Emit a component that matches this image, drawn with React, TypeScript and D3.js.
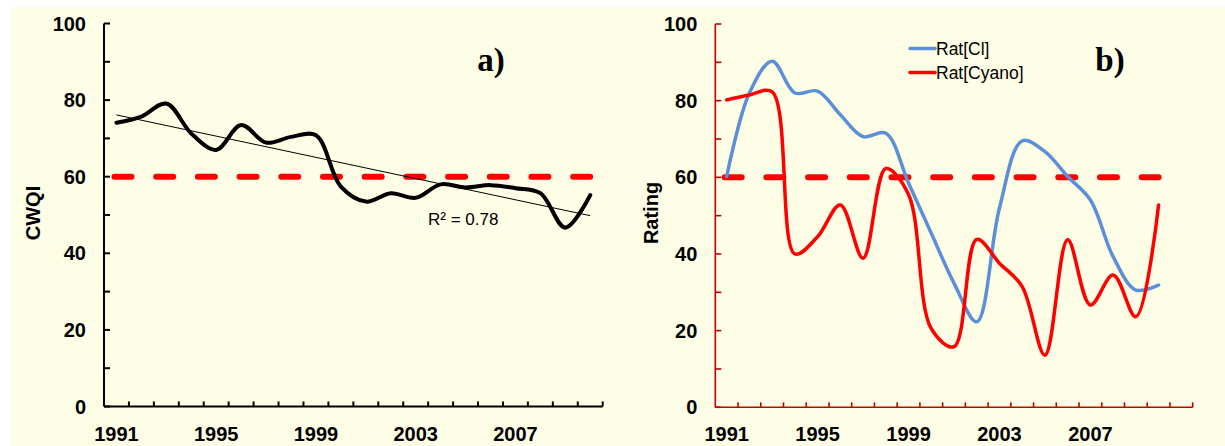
import React, { useEffect, useRef } from 'react';
import * as d3 from 'd3';

// years on the category axes (right panel has one spare slot at the end)
const yearsA = d3.range(1991, 2011).map(String);
const yearsB = d3.range(1991, 2012).map(String);
const yearLabels = ['1991', '1995', '1999', '2003', '2007'];

const cwqi = [74.1, 75.7, 79.1, 71.3, 67.0, 73.5, 68.9, 70.4, 70.8, 57.4,
  53.5, 55.7, 54.5, 58.0, 57.2, 57.8, 57.0, 55.7, 46.7, 55.2];

const ratCl = [60.2, 82.0, 90.3, 82.0, 82.5, 76.3, 70.6, 71.5, 58.5, 45.4,
  32.4, 22.3, 52.0, 69.5, 66.7, 60.2, 54.1, 39.3, 30.6, 31.9];

const ratCyano = [80.2, 81.5, 82.3, 40.0, 44.5, 52.8, 38.9, 62.3, 55.5, 20.5,
  15.8, 43.8, 37.6, 31.5, 13.6, 43.7, 26.7, 34.5, 23.6, 52.8];

const yTicks = d3.range(0, 101, 10);
const threshold = 60;
const rSquared = 'R² = 0.78';

const FONT = 'Liberation Sans, Arial, sans-serif';

const App = () => {
  const ref = useRef<SVGSVGElement>(null);

  useEffect(() => {
    const svg = d3.select(ref.current);
    svg.selectAll('*').remove();

    svg.append('rect')
      .attr('x', 11).attr('y', 7)
      .attr('width', 1214).attr('height', 439)
      .attr('fill', '#fefde6');

    const smooth = d3.curveCatmullRom.alpha(0.5);

    // draws one panel's axes, returns scales
    const panel = (cats: string[], x0: number, x1: number, y0: number, y1: number,
      axisColor: string, axisWidth: number, title: string, titleX: number) => {
      const x = d3.scaleBand<string>().domain(cats).range([x0, x1]);
      const y = d3.scaleLinear().domain([0, 100]).range([y0, y1]);
      const g = svg.append('g');

      // y axis
      g.append('line')
        .attr('x1', x0).attr('x2', x0).attr('y1', y(0)).attr('y2', y(100))
        .attr('stroke', axisColor).attr('stroke-width', axisWidth);
      yTicks.forEach(t => {
        g.append('line')
          .attr('x1', x0).attr('x2', x0 + 6).attr('y1', y(t)).attr('y2', y(t))
          .attr('stroke', axisColor).attr('stroke-width', axisWidth);
        if (t % 20 === 0) {
          g.append('text')
            .attr('x', x0 - 18).attr('y', y(t)).attr('dy', '0.35em')
            .attr('text-anchor', 'end')
            .style('font-family', FONT).style('font-size', '20px').style('font-weight', 'bold')
            .text(t);
        }
      });

      // x axis
      g.append('line')
        .attr('x1', x0).attr('x2', x1).attr('y1', y(0)).attr('y2', y(0))
        .attr('stroke', axisColor).attr('stroke-width', axisWidth);
      cats.forEach((c, i) => {
        if (i === 0) return;
        g.append('line')
          .attr('x1', x(c)!).attr('x2', x(c)!).attr('y1', y(0)).attr('y2', y(0) - 5)
          .attr('stroke', axisColor).attr('stroke-width', axisWidth);
      });
      g.append('line')
        .attr('x1', x1).attr('x2', x1).attr('y1', y(0)).attr('y2', y(0) - 5)
        .attr('stroke', axisColor).attr('stroke-width', axisWidth);
      yearLabels.forEach(l => {
        g.append('text')
          .attr('x', x(l)! + x.bandwidth() / 2).attr('y', 440.5)
          .attr('text-anchor', 'middle')
          .style('font-family', FONT).style('font-size', '20px').style('font-weight', 'bold')
          .text(l);
      });

      g.append('text')
        .attr('transform', `translate(${titleX},213) rotate(-90)`)
        .attr('text-anchor', 'middle')
        .style('font-family', FONT).style('font-size', '20px').style('font-weight', 'bold')
        .text(title);

      return { x, y, cx: (c: string) => x(c)! + x.bandwidth() / 2 };
    };

    const dashed = (cx: (c: string) => number, y: d3.ScaleLinear<number, number>, first: string, last: string) => {
      svg.append('line')
        .attr('x1', cx(first) - 2).attr('x2', cx(last) + 2)
        .attr('y1', y(threshold)).attr('y2', y(threshold))
        .attr('stroke', '#ff0000').attr('stroke-width', 6)
        .attr('stroke-linecap', 'round')
        .attr('stroke-dasharray', '17 24.7');
    };

    // ---- panel a ----
    const A = panel(yearsA, 104, 602.7, 406.5, 23.5, '#000', 2, 'CWQI', 40);
    dashed(A.cx, A.y, yearsA[0], yearsA[yearsA.length - 1]);

    // linear trend from the data
    const n = cwqi.length;
    const mx = (n - 1) / 2;
    const my = d3.mean(cwqi)!;
    const slope = d3.sum(cwqi, (v, i) => (i - mx) * (v - my)) / d3.sum(cwqi, (_, i) => (i - mx) ** 2);
    svg.append('line')
      .attr('x1', A.cx(yearsA[0])).attr('y1', A.y(my - slope * mx))
      .attr('x2', A.cx(yearsA[n - 1])).attr('y2', A.y(my + slope * mx))
      .attr('stroke', '#000').attr('stroke-width', 1);

    const lineA = d3.line<number>()
      .x((_, i) => A.cx(yearsA[i]))
      .y(d => A.y(d))
      .curve(smooth);
    svg.append('path')
      .datum(cwqi)
      .attr('d', lineA)
      .attr('fill', 'none').attr('stroke', '#000').attr('stroke-width', 4)
      .attr('stroke-linecap', 'round');

    svg.append('text')
      .attr('x', 428).attr('y', 225)
      .style('font-family', FONT).style('font-size', '17px')
      .text(rSquared);

    svg.append('text')
      .attr('x', 491).attr('y', 71).attr('text-anchor', 'middle')
      .style('font-family', 'Liberation Serif, Times New Roman, serif')
      .style('font-size', '33px').style('font-weight', 'bold')
      .text('a)');

    // ---- panel b ----
    const B = panel(yearsB, 715.3, 1192.7, 407.3, 24, '#c00000', 1.6, 'Rating', 658);
    dashed(B.cx, B.y, yearsB[0], yearsB[ratCyano.length - 1]);

    const lineB = d3.line<number>()
      .x((_, i) => B.cx(yearsB[i]))
      .y(d => B.y(d))
      .curve(smooth);

    svg.append('path')
      .datum(ratCl)
      .attr('d', lineB)
      .attr('fill', 'none').attr('stroke', '#5b8fd6').attr('stroke-width', 3.5)
      .attr('stroke-linecap', 'round');
    svg.append('path')
      .datum(ratCyano)
      .attr('d', lineB)
      .attr('fill', 'none').attr('stroke', '#ff0000').attr('stroke-width', 3.5)
      .attr('stroke-linecap', 'round');

    // legend
    const legend = [
      { name: 'Rat[Cl]', color: '#5b8fd6', y: 48.5 },
      { name: 'Rat[Cyano]', color: '#ff0000', y: 72.5 },
    ];
    legend.forEach(l => {
      svg.append('line')
        .attr('x1', 910).attr('x2', 935).attr('y1', l.y).attr('y2', l.y)
        .attr('stroke', l.color).attr('stroke-width', 3.5).attr('stroke-linecap', 'round');
      svg.append('text')
        .attr('x', 936).attr('y', l.y).attr('dy', '0.36em')
        .style('font-family', FONT).style('font-size', '17.5px')
        .text(l.name);
    });

    svg.append('text')
      .attr('x', 1110).attr('y', 71).attr('text-anchor', 'middle')
      .style('font-family', 'Liberation Serif, Times New Roman, serif')
      .style('font-size', '33px').style('font-weight', 'bold')
      .text('b)');
  }, []);

  return (
    <div style={{ position: 'absolute', left: 0, top: 0 }}>
      <svg ref={ref} width={1225} height={446} style={{ display: 'block' }}></svg>
    </div>
  );
};

export default App;
